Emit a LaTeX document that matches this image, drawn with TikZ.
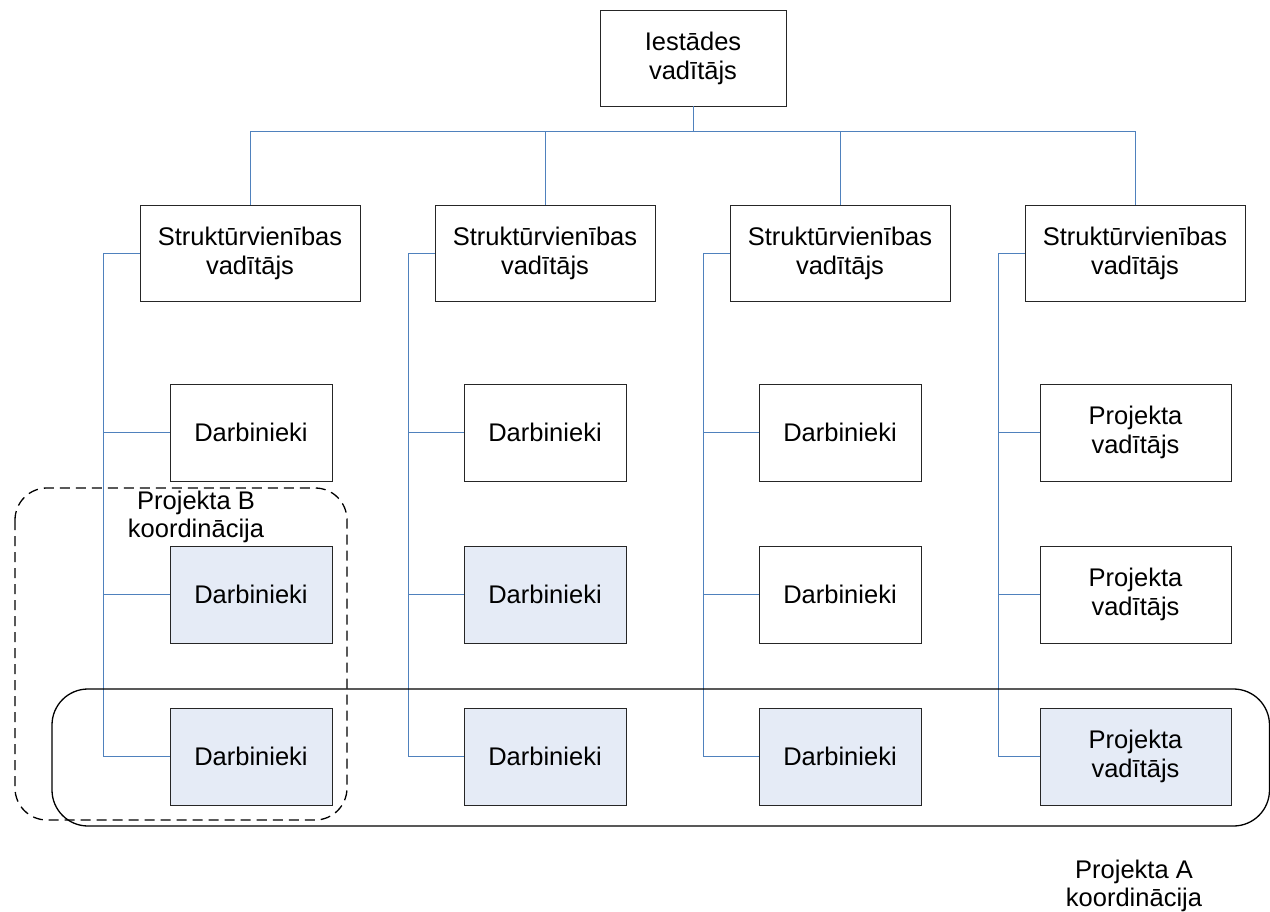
\documentclass[tikz,border=0pt]{standalone}
\usepackage{fontspec}
\setmainfont{Liberation Sans}
\begin{document}
\begin{tikzpicture}[x=1pt,y=-1pt,
  box/.style={draw=black!85, line width=0.9pt, fill=white, align=center,
    inner sep=0pt, font=\fontsize{25.5}{29}\selectfont},
  head/.style={box, minimum width=186pt, minimum height=96pt},
  unit/.style={box, minimum width=220pt, minimum height=96pt},
  staff/.style={box, minimum width=162pt, minimum height=97pt},
  lead/.style={box, minimum width=191pt, minimum height=97pt},
  conn/.style={draw=linkblue, line width=0.9pt},
  lbl/.style={align=center, inner sep=0pt, font=\fontsize{25.5}{28.5}\selectfont}]
\definecolor{linkblue}{HTML}{4F81BD}
\definecolor{hlblue}{HTML}{E5EBF6}
\useasboundingbox (0,0) rectangle (1270,911);

% top level
\node[head] (top) at (693,58) {Iestādes\\vadītājs};

% unit heads
\node[unit] (s1) at (250,253) {Struktūrvienības\\vadītājs};
\node[unit] (s2) at (545,253) {Struktūrvienības\\vadītājs};
\node[unit] (s3) at (840,253) {Struktūrvienības\\vadītājs};
\node[unit] (s4) at (1135,253) {Struktūrvienības\\vadītājs};

% staff, column 1
\node[staff] (c11) at (251,432.5) {Darbinieki};
\node[staff, fill=hlblue] (c12) at (251,594.5) {Darbinieki};
\node[staff, fill=hlblue] (c13) at (251,756.5) {Darbinieki};
% staff, column 2
\node[staff] (c21) at (545,432.5) {Darbinieki};
\node[staff, fill=hlblue] (c22) at (545,594.5) {Darbinieki};
\node[staff, fill=hlblue] (c23) at (545,756.5) {Darbinieki};
% staff, column 3
\node[staff] (c31) at (840,432.5) {Darbinieki};
\node[staff] (c32) at (840,594.5) {Darbinieki};
\node[staff, fill=hlblue] (c33) at (840,756.5) {Darbinieki};
% project leads, column 4
\node[lead] (c41) at (1135.5,432.5) {Projekta\\vadītājs};
\node[lead] (c42) at (1135.5,594.5) {Projekta\\vadītājs};
\node[lead, fill=hlblue] (c43) at (1135.5,756.5) {Projekta\\vadītājs};

% bus from the top box to the unit heads
\draw[conn] (top.south) -- ++(0,25) coordinate (bus);
\draw[conn] (s1.north) |- (bus) -| (s4.north);
\draw[conn] (s2.north) -- (s2.north |- bus);
\draw[conn] (s3.north) -- (s3.north |- bus);

% trunks from each unit head to its staff
\coordinate (t1) at (103,0);
\coordinate (t2) at (408,0);
\coordinate (t3) at (703,0);
\coordinate (t4) at (998,0);
\foreach \i in {1,2,3,4}{
  \draw[conn] (s\i.west) -- (t\i |- s\i.west) |- (c\i3.west);
  \draw[conn] (t\i |- c\i1.west) -- (c\i1.west);
  \draw[conn] (t\i |- c\i2.west) -- (c\i2.west);
}

% project B group
\draw[black, line width=1.3pt, dash pattern=on 10pt off 6pt, rounded corners=32pt]
  (15,488) rectangle (347,820);
\node[lbl] (pb) at (196,517) {Projekta B\\koordinācija};

% project A group
\draw[black, line width=1.3pt, rounded corners=36pt]
  (52,689) rectangle (1269.5,826);
\node[lbl] (pa) at (1134,886) {Projekta A\\koordinācija};
\end{tikzpicture}
\end{document}
